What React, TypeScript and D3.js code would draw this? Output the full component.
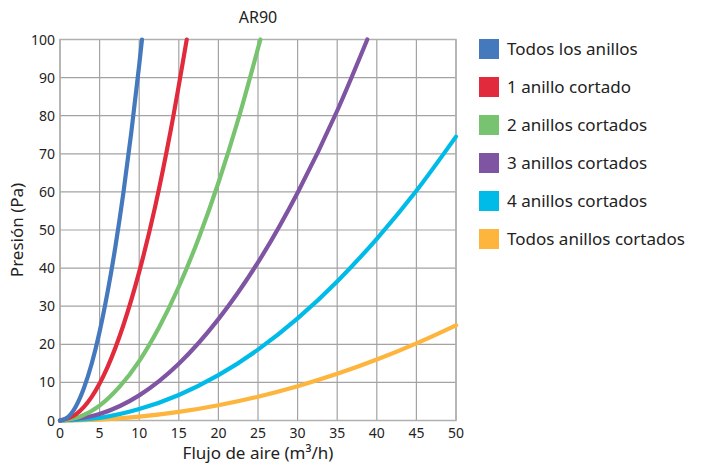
import React from "react";
import * as d3 from "d3";

const title = "AR90";
const xTicks = [0, 5, 10, 15, 20, 25, 30, 35, 40, 45, 50];
const yTicks = [0, 10, 20, 30, 40, 50, 60, 70, 80, 90, 100];

const seriesNames = [
  "Todos los anillos",
  "1 anillo cortado",
  "2 anillos cortados",
  "3 anillos cortados",
  "4 anillos cortados",
  "Todos anillos cortados",
];
const seriesColors = ["#4479BE", "#E12B3C", "#77C36F", "#7E54A3", "#00BBE8", "#FDB53E"];

const s0x = [0, 1, 2, 3, 4, 5, 6, 7, 8, 9, 10, 10.35];
const s0y = [0, 0.9, 3.7, 8.4, 14.9, 23.3, 33.6, 45.7, 59.7, 75.6, 93.3, 100];
const s1x = [0, 2, 4, 6, 8, 10, 12, 14, 16];
const s1y = [0, 1.6, 6.2, 14, 25, 39, 56, 76.4, 100];
const s2x = [0, 2.5, 5, 7.5, 10, 12.5, 15, 17.5, 20, 22.5, 25.3];
const s2y = [0, 1, 3.9, 8.8, 15.6, 24.4, 35.1, 47.8, 62.4, 79, 100];
const s3x = [0, 5, 10, 15, 20, 25, 30, 35, 38.8];
const s3y = [0, 1.7, 6.6, 14.9, 26.6, 41.5, 59.8, 81.3, 100];
const s4x = [0, 5, 10, 15, 20, 25, 30, 35, 40, 45, 50];
const s4y = [0, 0.7, 3, 6.7, 11.9, 18.6, 26.8, 36.5, 47.7, 60.3, 74.5];
const s5x = [0, 5, 10, 15, 20, 25, 30, 35, 40, 45, 50];
const s5y = [0, 0.25, 1, 2.25, 4, 6.25, 9, 12.25, 16, 20.25, 25];

const seriesX = [s0x, s1x, s2x, s3x, s4x, s5x];
const seriesY = [s0y, s1y, s2y, s3y, s4y, s5y];

export default function App() {
  const W = 716, H = 468;
  const left = 60, right = 456, top = 39.5, bottom = 420.5;
  const x = d3.scaleLinear().domain([0, 50]).range([left, right]);
  const y = d3.scaleLinear().domain([0, 100]).range([bottom, top]);
  const line = d3
    .line<[number, number]>()
    .x((d) => x(d[0]))
    .y((d) => y(d[1]))
    .curve(d3.curveMonotoneX);
  const font = "'Noto Sans', sans-serif";
  return (
    <svg width={W} height={H} style={{ position: "absolute", left: 0, top: 0 }} fontFamily={font}>
      <rect x={0} y={0} width={W} height={H} fill="#fff" />
      <text x={(left + right) / 2} y={23} textAnchor="middle" fontSize={16} fill="#222">
        {title}
      </text>
      {xTicks.map((t) => (
        <line key={"gx" + t} x1={x(t)} x2={x(t)} y1={top} y2={bottom} stroke="#a3a3a3" strokeWidth={1.2} />
      ))}
      {yTicks.map((t) => (
        <line key={"gy" + t} x1={left} x2={right} y1={y(t)} y2={y(t)} stroke="#a3a3a3" strokeWidth={1.2} />
      ))}
      <rect x={left} y={top} width={right - left} height={bottom - top} fill="none" stroke="#b0b0b0" strokeWidth={1.5} />
      {yTicks.map((t) => (
        <text key={"ty" + t} x={left - 5} y={y(t) + 5} textAnchor="end" fontSize={14} fill="#222">
          {t}
        </text>
      ))}
      {xTicks.map((t) => (
        <text key={"tx" + t} x={x(t)} y={bottom + 17} textAnchor="middle" fontSize={14} fill="#222">
          {t}
        </text>
      ))}
      {seriesNames.map((n, i) => {
        const pts = seriesX[i].map((v, j) => [v, seriesY[i][j]] as [number, number]);
        return (
          <path
            key={"s" + i}
            d={line(pts) || ""}
            fill="none"
            stroke={seriesColors[i]}
            strokeWidth={4.2}
            strokeLinecap="round"
          />
        );
      }).reverse()}
      <text x={(left + right) / 2} y={459} textAnchor="middle" fontSize={17} fill="#222">
        Flujo de aire (m³/h)
      </text>
      <text
        transform={`translate(23, ${(top + bottom) / 2}) rotate(-90)`}
        textAnchor="middle"
        fontSize={17}
        fill="#222"
      >
        Presión (Pa)
      </text>
      {seriesNames.map((n, i) => (
        <g key={"l" + i} transform={`translate(479, ${39 + i * 38})`}>
          <rect x={0} y={0} width={20} height={20} fill={seriesColors[i]} />
          <text x={28} y={16} fontSize={17} fill="#222">
            {n}
          </text>
        </g>
      ))}
    </svg>
  );
}
